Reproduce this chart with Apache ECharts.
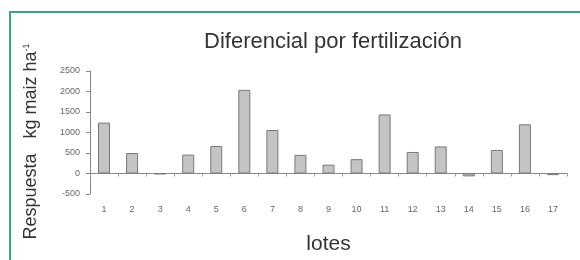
<!DOCTYPE html>
<html>
<head>
<meta charset="utf-8">
<script src="https://cdn.jsdelivr.net/npm/echarts@6/dist/echarts.min.js"></script>
<style>
  html, body { margin: 0; padding: 0; background: #fff; }
  #marco {
    position: absolute; left: 9px; top: 11px; width: 580px; height: 260px;
    border-top: 2px solid #3ba683; border-left: 2px solid #3ba683;
  }
  #charts { position: absolute; left: 0; top: 0; width: 580px; height: 260px; }
</style>
</head>
<body>
<div id="marco"></div>
<div id="charts"></div>
<script>
// datos
var lotes = ['1', '2', '3', '4', '5', '6', '7', '8', '9', '10', '11', '12', '13', '14', '15', '16', '17'];
var respuesta = [1240, 500, -15, 460, 670, 2040, 1060, 455, 215, 350, 1440, 525, 660, -70, 575, 1200, -40];
var ticksY = [-500, 2500, 500]; // min, max, intervalo

var myChart = echarts.init(document.getElementById('charts'));

var option = {
    animation: false,
    title: {
        text: 'Diferencial por fertilización',
        left: 328,
        textAlign: 'center',
        top: 26,
        textStyle: { fontFamily: 'Liberation Sans', fontSize: 22, fontWeight: 'normal', color: '#333' }
    },
    grid: { left: 90, right: 13, top: 71, bottom: 39 },
    xAxis: {
        type: 'category',
        data: lotes,
        name: 'lotes',
        nameLocation: 'middle',
        nameGap: 40,
        nameTextStyle: { fontFamily: 'Liberation Sans', fontSize: 21, color: '#333' },
        axisLine: { onZero: true, lineStyle: { color: '#888' } },
        axisTick: { show: true, length: 3, lineStyle: { color: '#999' } },
        axisLabel: { margin: 11, fontFamily: 'Liberation Sans', fontSize: 9, color: '#666' }
    },
    yAxis: {
        type: 'value',
        min: ticksY[0],
        max: ticksY[1],
        interval: ticksY[2],
        name: 'Respuesta   kg maiz ha{sup|-1}',
        nameLocation: 'middle',
        nameGap: 50,
        nameTextStyle: {
            fontFamily: 'Liberation Sans', fontSize: 18, color: '#333',
            padding: [0, 18, 0, 0],
            rich: { sup: { fontSize: 9, verticalAlign: 'top', padding: [0, 0, 8, 0], color: '#333' } }
        },
        splitLine: { show: false },
        axisLine: { show: true, lineStyle: { color: '#888' } },
        axisTick: { show: true, length: 4, lineStyle: { color: '#888' } },
        axisLabel: {
            margin: 10, fontFamily: 'Liberation Sans', fontSize: 9, color: '#666',
            formatter: function (v) { return String(v); }
        }
    },
    series: [{
        type: 'bar',
        data: respuesta,
        barWidth: 12,
        itemStyle: { color: '#c4c4c4', borderColor: '#7a7a7a', borderWidth: 1 }
    }]
};
myChart.setOption(option);
</script>
</body>
</html>
